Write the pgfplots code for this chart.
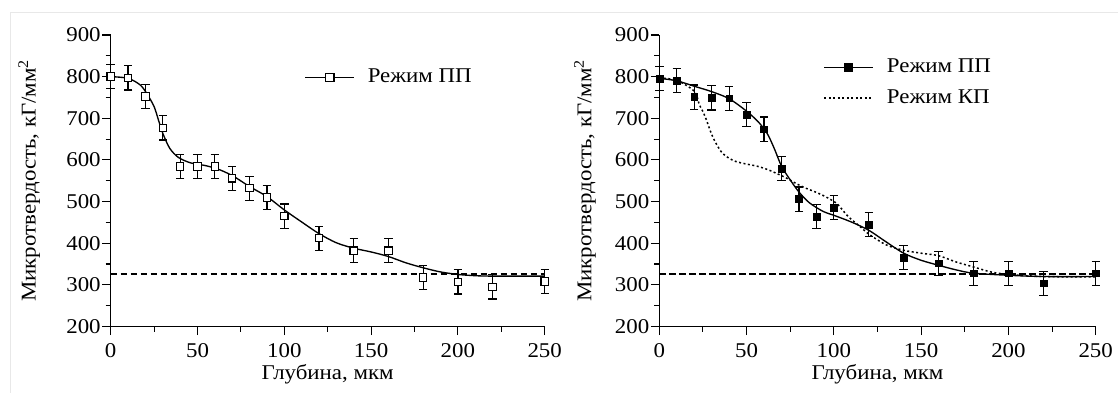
\documentclass[border=0pt]{standalone}
\usepackage{fontspec}
\setmainfont{Liberation Serif}[FakeStretch=1.09]
\usepackage{pgfplots}
\pgfplotsset{compat=1.18}

\newcommand{\lblfont}{\fontsize{21bp}{24bp}\selectfont}
\pgfplotsset{
  hard/.style={
    scale only axis,
    height=291.5bp,
    xmin=0, xmax=250, ymin=200, ymax=900,
    axis lines=left,
    axis line style={-, line width=1.2bp},
    every outer x axis line/.append style={-},
    every outer y axis line/.append style={-},
    xtick={0,50,...,250}, ytick={200,300,...,900},
    minor x tick num=1, minor y tick num=1,
    tick align=outside,
    major tick length=8.5bp, minor tick length=5bp,
    every tick/.style={black, line width=1.1bp},
    tick label style={font=\lblfont},
    xticklabel style={yshift=-5bp},
    yticklabel style={xshift=2bp},
    /pgf/number format/assume math mode=true,
    xlabel={Глубина, мкм},
    ylabel={Микротвердость, кГ/мм\textsuperscript{2}},
    every axis x label/.style={at={([yshift=-52.8bp]axis description cs:0.5,0)}, anchor=base, font=\lblfont},
    clip=false,
    legend cell align=left,
    legend style={draw=none, fill=none, inner sep=0pt,
      font=\lblfont,
      nodes={inner xsep=0pt, inner ysep=0pt, text height=14bp, text depth=4bp},
      /tikz/column sep=0pt, /tikz/row sep=12.6bp},
    legend image code/.code={
      \draw[mark repeat=2,mark phase=2,##1] plot coordinates {(0bp,0bp) (24.5bp,0bp) (49bp,0bp)};
      \path (62bp,0bp);},
  },
  ebar/.style={
    error bars/y dir=both, error bars/y explicit,
    error bars/error bar style={line width=1.2bp, black},
    error bars/error mark options={rotate=90, mark size=4.2bp, line width=1.2bp, black},
  },
}

\begin{document}
\begin{tikzpicture}
\useasboundingbox (0,0) rectangle (1118bp,393bp);
\draw[black!9, line width=0.8bp] (10bp,0bp) -- (10bp,380.7bp) -- (1118bp,380.7bp);

% ---------------- left panel ----------------
\begin{axis}[hard, at={(110.7bp,66.5bp)}, anchor=south west, width=434bp,
  every axis y label/.style={at={([xshift=-75bp]axis description cs:0,0.5)}, anchor=base, rotate=90, font=\lblfont},
  legend style={at={(axis cs:111.5,798)}, anchor=west}]
\addlegendimage{black, line width=1.3bp, mark=square*, mark size=4.4bp,
  mark options={fill=white, line width=1.1bp, solid}}
\addlegendentry{Режим ПП}
\addplot[black, line width=2bp, dash pattern=on 6.5bp off 3.5bp, forget plot]
  coordinates {(0,327) (250,327)};
\addplot[black, line width=1.35bp, smooth, forget plot] coordinates {
 (0,800)(10,796)(17,780)(21,758)(25,728)(27.5,696)(30,664)(34,628)(39,606)
 (46,593)(55,586)(63,576)(71,560)(80,536)(90,512)(100,480)(110,451)(120,423)
 (130,401)(140,388)(150,379)(160,368)(170,353)(180,341)(190,331)(200,325)
 (210,322)(220,321)(250,321)};
\addplot[forget plot, only marks, mark=square*, mark size=3.7bp,
  mark options={fill=white, draw=black, line width=1.1bp}, ebar]
  table[x=x, y=y, y error=e] {
x y e
0 800 29
10 797 29
20 752 29
30 677 29
40 584 29
50 584 29
60 584 29
70 556 29
80 532 29
90 510 29
100 465 29
120 412 29
140 382 29
160 382 29
180 318 29
200 307 29
220 295 29
250 308 29
};
\end{axis}

% ---------------- right panel ----------------
\begin{axis}[hard, at={(659.3bp,66.5bp)}, anchor=south west, width=436.4bp,
  every axis y label/.style={at={([xshift=-68bp]axis description cs:0,0.5)}, anchor=base, rotate=90, font=\lblfont},
  legend style={at={(axis cs:94,785)}, anchor=west}]
\addlegendimage{black, line width=1.3bp, mark=square*, mark size=3.8bp,
  mark options={fill=black, solid}}
\addlegendentry{Режим ПП}
\addlegendimage{black, line width=1.4bp, dash pattern=on 2bp off 2.5bp}
\addlegendentry{Режим КП}
\addplot[black, line width=2bp, dash pattern=on 6.5bp off 3.5bp, forget plot]
  coordinates {(0,327) (250,327)};
\addplot[black, line width=1.5bp, dash pattern=on 2bp off 2.5bp, smooth, forget plot] coordinates {
 (0,797)(10,791)(20,765)(23,732)(25,716)(27,696)(29,672)(31,652)(33,636)(36,617)
 (40,604)(44,596)(50,590)(56,585)(62,577)(67,568)(73,556)(79,542)(84,532)(90,522)
 (96,510)(102,494)(108,465)(115,440)(120,422)(130,396)(140,383)(150,376)(160,370)
 (170,355)(180,343)(190,331)(200,325)(220,320)(250,319)};
\addplot[black, line width=1.35bp, smooth, forget plot] coordinates {
 (0,796)(10,790)(20,777)(30,764)(40,747)(50,717)(57,690)(62,662)(66,626)(70,585)
 (75,552)(80,523)(86,497)(94,476)(100,467)(110,451)(120,431)(130,403)(140,376)
 (150,359)(160,347)(170,336)(180,328)(200,323)(220,320)(250,320)};
\addplot[forget plot, only marks, mark=square*, mark size=3.4bp,
  mark options={fill=black, draw=black}, ebar]
  table[x=x, y=y, y error=e] {
x y e
0 795 29
10 791 29
20 751 29
30 749 29
40 748 29
50 709 29
60 674 29
70 579 29
80 506 29
90 464 29
100 486 29
120 445 29
140 366 29
160 352 29
180 328 29
200 328 29
220 304 29
250 328 29
};
\end{axis}
\end{tikzpicture}
\end{document}
